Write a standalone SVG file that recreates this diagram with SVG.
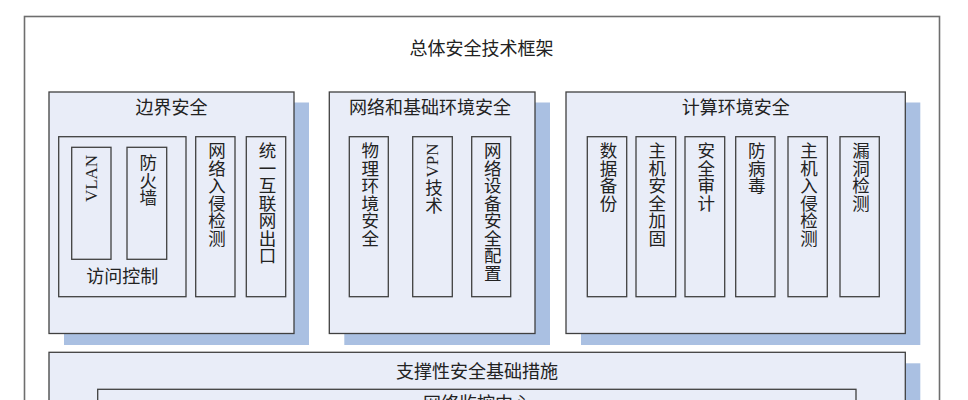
<svg xmlns="http://www.w3.org/2000/svg" width="968" height="400" viewBox="0 0 968 400">
<style>
.outer{fill:#ffffff;stroke:#6e6e6e;stroke-width:1.6}
.box{fill:#e9edf8;stroke:#404040;stroke-width:1.3}
.shadow{fill:#aac0e2;stroke:none}
.t{font-family:"Liberation Serif","Noto Sans CJK SC",serif;font-size:18px;fill:#222222;text-anchor:middle;dominant-baseline:central}
.v{font-family:"Liberation Serif","Noto Sans CJK SC",serif;font-size:17.5px;fill:#222222;writing-mode:vertical-rl}
.lat{font-family:"Liberation Serif","Noto Sans CJK SC",serif;font-size:17px;fill:#222222;text-anchor:middle;dominant-baseline:central}
</style>
<rect width="968" height="400" fill="#ffffff"/>
<g id="frame">
<rect class="outer" x="24.5" y="16.5" width="915" height="420"/>
<text class="t" x="481.5" y="48.5">总体安全技术框架</text>
</g>
<g id="border-security">
<rect class="shadow" x="64" y="102.5" width="245" height="242.5"/>
<rect class="box" x="49" y="92" width="245" height="241.5"/>
<text class="t" x="171.5" y="107.5">边界安全</text>
</g>
<g id="access-control">
<rect class="box" x="58.7" y="136.7" width="127.3" height="160"/>
<text class="t" x="122.3" y="276.5">访问控制</text>
</g>
<g id="vlan">
<rect class="box" x="71.7" y="147.3" width="39.3" height="112"/>
<text class="lat" x="91.3" y="178.5" transform="rotate(-90 91.3 178.5)">VLAN</text>
</g>
<g id="firewall">
<rect class="box" x="127" y="147.3" width="39.7" height="112"/>
<text class="v" x="146.8" y="154">防火墙</text>
</g>
<g id="net-ids">
<rect class="box" x="195.7" y="136.7" width="39.3" height="160"/>
<text class="v" x="215.4" y="142">网络入侵检测</text>
</g>
<g id="internet-exit">
<rect class="box" x="246.3" y="136.7" width="39.4" height="160"/>
<text class="v" x="266" y="142">统一互联网出口</text>
</g>
<g id="network-env-security">
<rect class="shadow" x="344.3" y="102.5" width="205.7" height="242.5"/>
<rect class="box" x="329.3" y="92" width="205.7" height="241.5"/>
<text class="t" x="430" y="107.5">网络和基础环境安全</text>
</g>
<g id="physical-security">
<rect class="box" x="349.3" y="136.7" width="39" height="160"/>
<text class="v" x="368.8" y="142">物理环境安全</text>
</g>
<g id="vpn">
<rect class="box" x="412.7" y="136.7" width="39.6" height="160"/>
<text class="lat" x="432.5" y="160.5" transform="rotate(-90 432.5 160.5)">VPN</text>
<text class="v" x="432.5" y="179">技术</text>
</g>
<g id="device-config">
<rect class="box" x="471.7" y="136.7" width="39" height="160"/>
<text class="v" x="491.2" y="142">网络设备安全配置</text>
</g>
<g id="compute-env-security">
<rect class="shadow" x="581" y="102.5" width="339.3" height="242.5"/>
<rect class="box" x="566" y="92" width="339.3" height="241.5"/>
<text class="t" x="735.7" y="107.5">计算环境安全</text>
</g>
<g id="data-backup">
<rect class="box" x="587.3" y="136.7" width="39.4" height="160"/>
<text class="v" x="607" y="142">数据备份</text>
</g>
<g id="host-hardening">
<rect class="box" x="636" y="136.7" width="39.7" height="160"/>
<text class="v" x="655.8" y="142">主机安全加固</text>
</g>
<g id="security-audit">
<rect class="box" x="685" y="136.7" width="39.7" height="160"/>
<text class="v" x="704.8" y="142">安全审计</text>
</g>
<g id="antivirus">
<rect class="box" x="735.7" y="136.7" width="39.3" height="160"/>
<text class="v" x="755.3" y="142">防病毒</text>
</g>
<g id="host-ids">
<rect class="box" x="788" y="136.7" width="39.3" height="160"/>
<text class="v" x="807.6" y="142">主机入侵检测</text>
</g>
<g id="vuln-scan">
<rect class="box" x="840" y="136.7" width="39.3" height="160"/>
<text class="v" x="859.6" y="142">漏洞检测</text>
</g>
<g id="support-infra">
<rect class="shadow" x="64" y="363.3" width="856.3" height="80"/>
<rect class="box" x="49" y="352.3" width="856.3" height="80"/>
<text class="t" x="477" y="371.7">支撑性安全基础措施</text>
</g>
<g id="monitor-center">
<rect class="box" x="97.7" y="389.3" width="758.3" height="40"/>
<text class="t" x="477" y="404">网络监控中心</text>
</g>
<g id="connectors"/>
</svg>
